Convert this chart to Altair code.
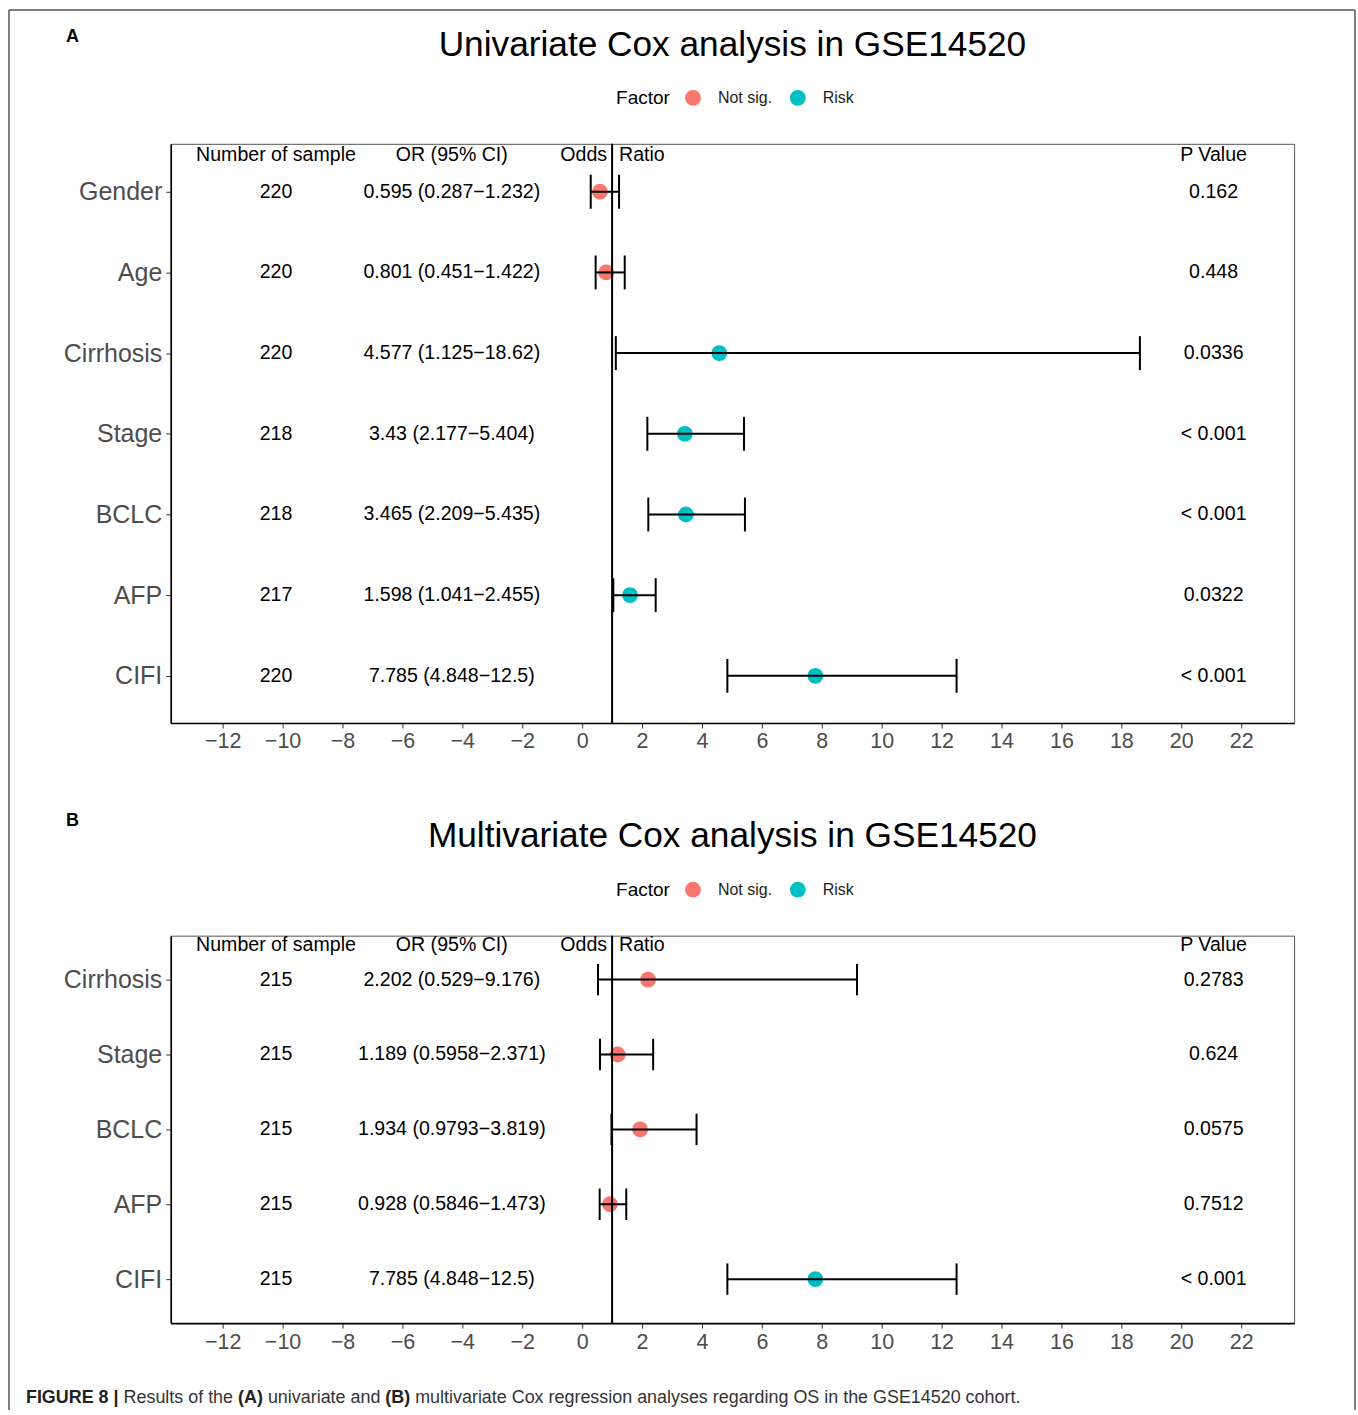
import altair as alt
import pandas as pd

# ---------------- data ----------------
a_factor = ["Gender", "Age", "Cirrhosis", "Stage", "BCLC", "AFP", "CIFI"]
a_n = [220, 220, 220, 218, 218, 217, 220]
a_or = [0.595, 0.801, 4.577, 3.43, 3.465, 1.598, 7.785]
a_lo = [0.287, 0.451, 1.125, 2.177, 2.209, 1.041, 4.848]
a_hi = [1.232, 1.422, 18.62, 5.404, 5.435, 2.455, 12.5]
a_p = ["0.162", "0.448", "0.0336", "< 0.001", "< 0.001", "0.0322", "< 0.001"]
a_sig = ["Not sig.", "Not sig.", "Risk", "Risk", "Risk", "Risk", "Risk"]

b_factor = ["Cirrhosis", "Stage", "BCLC", "AFP", "CIFI"]
b_n = [215, 215, 215, 215, 215]
b_or = [2.202, 1.189, 1.934, 0.928, 7.785]
b_lo = [0.529, 0.5958, 0.9793, 0.5846, 4.848]
b_hi = [9.176, 2.371, 3.819, 1.473, 12.5]
b_p = ["0.2783", "0.624", "0.0575", "0.7512", "< 0.001"]
b_sig = ["Not sig.", "Not sig.", "Not sig.", "Not sig.", "Risk"]

sig_levels = ["Not sig.", "Risk"]
sig_colors = ["#F8766D", "#00BFC4"]
x_ticks = list(range(-12, 23, 2))

title_a = "Univariate Cox analysis in GSE14520"
title_b = "Multivariate Cox analysis in GSE14520"
caption_parts = [
    ("FIGURE 8 |", True),
    (" Results of the ", False),
    ("(A)", True),
    (" univariate and ", False),
    ("(B)", True),
    (" multivariate Cox regression analyses regarding OS in the GSE14520 cohort.", False),
]

# ---------------- layout ----------------
FONT = "Liberation Sans"
W = 1125
XDOM = [-13.733, 23.767]
COL_N, COL_OR, COL_P = -10.22, -4.35, 21.08
TXT_FS = 19.6

xscale = alt.Scale(domain=XDOM, nice=False, zero=False)
xaxis = alt.Axis(values=x_ticks, grid=False, labelFontSize=21.5, labelColor="#4D4D4D",
                 tickColor="#333333", tickSize=5, tickWidth=1, labelPadding=3,
                 domainColor="black", domainWidth=1.6, title=None)

# Arial metrics for caption layout
REG = {" ": 278, "(": 333, ")": 333, ".": 278, "|": 260, "A": 667, "B": 667, "C": 722,
       "E": 667, "F": 611, "G": 778, "I": 278, "O": 778, "R": 722, "S": 667, "U": 722,
       "a": 556, "c": 500, "d": 556, "e": 556, "f": 278, "g": 556, "h": 556, "i": 222,
       "l": 222, "m": 833, "n": 556, "o": 556, "p": 556, "r": 333, "s": 500, "t": 278,
       "u": 556, "v": 500, "y": 500}
BOLD = {" ": 278, "(": 333, ")": 333, "|": 280, "A": 722, "B": 722, "E": 667, "F": 611,
        "G": 778, "I": 278, "R": 722, "U": 722}


def tw(s, bold):
    tab = BOLD if bold else REG
    return sum(tab.get(c, 556) for c in s) / 1000.0


cap_units = sum(tw(s, b) for s, b in caption_parts)
CAP_FS = 997.0 / cap_units
cap_rows = []
cx = 25.0 - 170
for s, b in caption_parts:
    lead = len(s) - len(s.lstrip(" "))
    xs = cx + tw(" " * lead, b) * CAP_FS
    cap_rows.append({"t": s.strip(" "), "x": xs, "bold": 1 if b else 0})
    cx += tw(s, b) * CAP_FS
cap_df = pd.DataFrame(cap_rows)

one = pd.DataFrame({"a": [0]})


def panel(factors, n, orv, lo, hi, p, sig, title, letter, height, ydom, header_y, cap_px,
          extra=None, tail=None):
    nrow = len(factors)
    rows = list(range(1, nrow + 1))
    df = pd.DataFrame({"row": rows, "factor": factors, "or": orv, "lo": lo, "hi": hi,
                       "sig": sig})
    yscale = alt.Scale(domain=ydom, reverse=True, nice=False, zero=False)
    label_expr = "[" + ",".join("'" + s + "'" for s in [""] + factors) + "][datum.value]"
    yaxis = alt.Axis(values=rows, labelExpr=label_expr, grid=False, labelFontSize=25,
                     labelColor="#4D4D4D", tickColor="#333333", tickSize=5, tickWidth=1,
                     labelPadding=4, domainColor="black", domainWidth=1.6, title=None)

    def X(f):
        return alt.X(f, type="quantitative", scale=xscale, axis=xaxis, title=None)

    def Y(f):
        return alt.Y(f, type="quantitative", scale=yscale, axis=yaxis, title=None)

    txt = []
    for i in range(nrow):
        txt.append({"row": rows[i], "x": COL_N, "label": str(n[i])})
        txt.append({"row": rows[i], "x": COL_OR,
                    "label": f"{orv[i]} ({lo[i]}\u2212{hi[i]})"})
        txt.append({"row": rows[i], "x": COL_P, "label": p[i]})
    txt.append({"row": header_y, "x": COL_N, "label": "Number of sample"})
    txt.append({"row": header_y, "x": COL_OR, "label": "OR (95% CI)"})
    txt.append({"row": header_y, "x": COL_P, "label": "P Value"})
    txt_df = pd.DataFrame(txt)
    hdr_df = pd.DataFrame({"row": [header_y], "x": [1.0]})

    points = alt.Chart(df).mark_circle(size=250, opacity=1).encode(
        x=X("or"), y=Y("row"),
        color=alt.Color("sig:N", scale=alt.Scale(domain=sig_levels, range=sig_colors),
                        legend=alt.Legend(orient="none", legendX=446, legendY=-54,
                                          direction="horizontal", title="Factor",
                                          titleOrient="left", titleFontSize=19,
                                          titleFontWeight="normal", titleColor="black",
                                          titleBaseline="middle",
                                          labelFontSize=16, labelColor="#222222",
                                          symbolSize=250, symbolType="circle",
                                          symbolStrokeWidth=0, labelOffset=17,
                                          columnPadding=17, titlePadding=15, padding=0)))
    bars = alt.Chart(df).mark_rule(color="black", strokeWidth=2).encode(
        x=X("lo"), x2="hi", y=Y("row"))
    caps_lo = alt.Chart(df).mark_tick(color="black", orient="vertical", size=cap_px,
                                      thickness=2, opacity=1).encode(x=X("lo"), y=Y("row"))
    caps_hi = alt.Chart(df).mark_tick(color="black", orient="vertical", size=cap_px,
                                      thickness=2, opacity=1).encode(x=X("hi"), y=Y("row"))
    vline = alt.Chart(pd.DataFrame({"v": [1.0]})).mark_rule(color="black", strokeWidth=2).encode(
        x=X("v"))
    texts = alt.Chart(txt_df).mark_text(fontSize=TXT_FS, color="black", baseline="middle",
                                        align="center").encode(
        x=X("x"), y=Y("row"), text="label:N")
    odds = alt.Chart(hdr_df).mark_text(fontSize=TXT_FS, color="black", baseline="middle",
                                       align="right", dx=-5, text="Odds").encode(
        x=X("x"), y=Y("row"))
    ratio = alt.Chart(hdr_df).mark_text(fontSize=TXT_FS, color="black", baseline="middle",
                                        align="left", dx=7, text="Ratio").encode(
        x=X("x"), y=Y("row"))
    ttl = alt.Chart(one).mark_text(fontSize=35.3, color="black", align="center",
                                   baseline="middle", text=title).encode(
        x=alt.value(W / 2), y=alt.value(-99 if letter == "A" else -100))
    let = alt.Chart(one).mark_text(fontSize=18, fontWeight="bold", color="black",
                                   align="left", baseline="middle", text=letter).encode(
        x=alt.value(-105), y=alt.value(-107 if letter == "A" else -115))
    layers = [points, bars, caps_lo, caps_hi, vline, texts, odds, ratio, ttl, let]
    if extra:
        layers = extra + layers
    if tail:
        layers = layers + tail
    return alt.layer(*layers).properties(width=W, height=height)


# page frame (left, top, right) and invisible page-bounds rect, in panel A pixel space
bounds = alt.Chart(one).mark_rect(opacity=0, fillOpacity=0, strokeOpacity=0).encode(
    x=alt.value(-170), x2=alt.value(1358 - 170), y=alt.value(-142), y2=alt.value(1410 - 142))
fr_left = alt.Chart(one).mark_rule(color="#555555", strokeWidth=1.5).encode(
    x=alt.value(-162), y=alt.value(-134), y2=alt.value(1410 - 142))
fr_right = alt.Chart(one).mark_rule(color="#555555", strokeWidth=1.5).encode(
    x=alt.value(1186), y=alt.value(-134), y2=alt.value(1410 - 142))
fr_top = alt.Chart(one).mark_rule(color="#555555", strokeWidth=1.5).encode(
    x=alt.value(-162), x2=alt.value(1186), y=alt.value(-134))

panel_a = panel(a_factor, a_n, a_or, a_lo, a_hi, a_p, a_sig, title_a, "A", 580,
                [0.406, 7.584], 0.542, 34, extra=[bounds, fr_left, fr_right, fr_top])

cap_bold = alt.Chart(cap_df).transform_filter("datum.bold == 1").mark_text(
    fontSize=CAP_FS, color="#222222", align="left", baseline="middle", fontWeight="bold"
).encode(x=alt.X("x:Q", scale=None), y=alt.value(1398 - 935), text="t:N")
cap_reg = alt.Chart(cap_df).transform_filter("datum.bold == 0").mark_text(
    fontSize=CAP_FS, color="#333333", align="left", baseline="middle", fontWeight="normal"
).encode(x=alt.X("x:Q", scale=None), y=alt.value(1398 - 935), text="t:N")

panel_b = panel(b_factor, b_n, b_or, b_lo, b_hi, b_p, b_sig, title_b, "B", 388,
                [0.413, 5.587], 0.533, 31.5, tail=[cap_bold, cap_reg])

chart = alt.vconcat(panel_a, panel_b, spacing=213, bounds="flush").resolve_scale(
    color="independent", x="independent", y="independent"
).resolve_legend(color="independent").properties(padding=0).configure(
    font=FONT
).configure_view(stroke="#555555", strokeWidth=1)

chart.save("out.html", embed_options={"renderer": "svg", "actions": False})
